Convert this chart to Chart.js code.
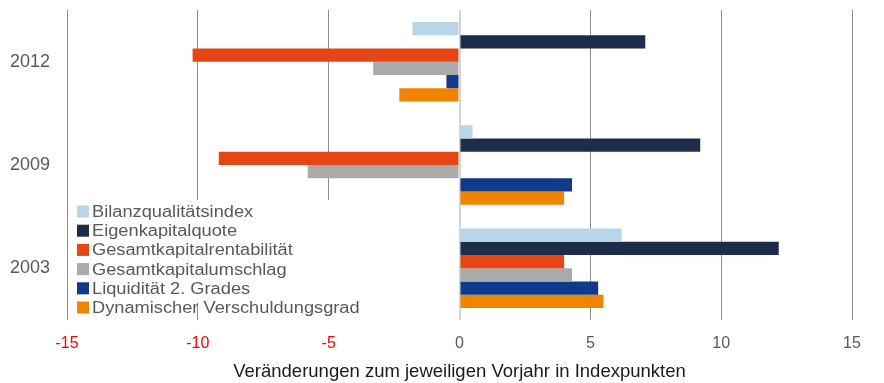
<!DOCTYPE html>
<html>
<head>
<meta charset="utf-8">
<script src="https://cdn.jsdelivr.net/npm/chart.js@4/dist/chart.umd.min.js"></script>
<style>
  html, body { margin: 0; padding: 0; background: #fff; }
  #wrap { width: 884px; height: 383px; position: relative; }
</style>
</head>
<body>
<div id="wrap"><canvas id="indexChart"></canvas></div>
<script>
// Jahre und Kennzahlen
const years = ["2012", "2009", "2003"];
const xTicks = [-15, -10, -5, 0, 5, 10, 15];

const bilanzqualitaet = [-1.8, 0.5, 6.2];
const eigenkapitalquote = [7.1, 9.2, 12.2];
const gkRentabilitaet = [-10.2, -9.2, 4.0];
const gkUmschlag = [-3.3, -5.8, 4.3];
const liquiditaet2 = [-0.5, 4.3, 5.3];
const dynVerschuldung = [-2.3, 4.0, 5.5];

const seriesNames = [
  "Bilanzqualitätsindex",
  "Eigenkapitalquote",
  "Gesamtkapitalrentabilität",
  "Gesamtkapitalumschlag",
  "Liquidität 2. Grades",
  "Dynamischer Verschuldungsgrad",
];
const seriesColors = ["#b9d5e8", "#1b2d48", "#e54613", "#aaaaaa", "#0e3b8c", "#f08300"];
const seriesValues = [bilanzqualitaet, eigenkapitalquote, gkRentabilitaet, gkUmschlag, liquiditaet2, dynVerschuldung];

const FONT = "'Liberation Sans', Arial, sans-serif";

// Legende in der Zeichenfläche, mit weißem Hintergrund
const innerLegend = {
  id: "innerLegend",
  afterDatasetsDraw(chart) {
    const c = chart.ctx;
    const area = chart.chartArea;
    const x0 = area.left + 10;
    const y0 = 211.5;
    const step = 19.2;
    c.save();
    c.fillStyle = "#ffffff";
    c.fillRect(area.left + 1, 200, 298, 103);
    c.fillRect(area.left + 140, 303, 159, area.bottom - 303);
    c.font = "16px " + FONT;
    c.textBaseline = "middle";
    chart.data.datasets.forEach((ds, i) => {
      const y = y0 + i * step;
      c.fillStyle = ds.backgroundColor;
      c.fillRect(x0, y - 6, 12, 12);
      c.save();
      c.translate(x0 + 15, y + 1);
      c.scale(1.14, 1);
      c.fillStyle = "#595959";
      c.fillText(ds.label, 0, 0);
      c.restore();
    });
    c.restore();
  },
};

const ctx = document.getElementById("indexChart").getContext("2d");
const indexChart = new Chart(ctx, {
  type: "bar",
  data: {
    labels: years,
    datasets: seriesNames.map((name, i) => ({
      label: name,
      data: seriesValues[i],
      backgroundColor: seriesColors[i],
      borderWidth: 0,
      categoryPercentage: 0.77,
      barPercentage: 1.0,
    })),
  },
  options: {
    indexAxis: "y",
    responsive: true,
    maintainAspectRatio: false,
    animation: false,
    layout: { padding: { top: 10, right: 32, left: 0, bottom: 0 } },
    plugins: {
      legend: { display: false },
      tooltip: { enabled: false },
    },
    scales: {
      x: {
        min: -15,
        max: 15,
        afterBuildTicks: (scale) => {
          scale.ticks = xTicks.map((v) => ({ value: v }));
        },
        afterFit: (scale) => {
          scale.height = 63;
        },
        border: { display: false },
        grid: {
          drawTicks: false,
          color: (c) => (c.tick && c.tick.value === 0 ? "#d4d4d4" : "#8c8c8c"),
          lineWidth: (c) => (c.tick && c.tick.value === 0 ? 2 : 1),
        },
        ticks: {
          padding: 14,
          font: { family: FONT, size: 16 },
          color: (c) => (c.tick && c.tick.value < 0 ? "#ff0000" : "#595959"),
        },
        title: {
          display: true,
          text: "Veränderungen zum jeweiligen Vorjahr in Indexpunkten",
          color: "#1a1a1a",
          font: { family: FONT, size: 18.5 },
          padding: { top: 0, bottom: 0 },
        },
      },
      y: {
        afterFit: (scale) => {
          scale.width = 67;
          scale.paddingTop = 0;
          scale.paddingBottom = 0;
        },
        border: { display: false },
        grid: { display: false, drawTicks: false },
        ticks: {
          padding: 17,
          font: { family: FONT, size: 18 },
          color: "#595959",
        },
      },
    },
  },
  plugins: [innerLegend],
});
</script>
</body>
</html>
